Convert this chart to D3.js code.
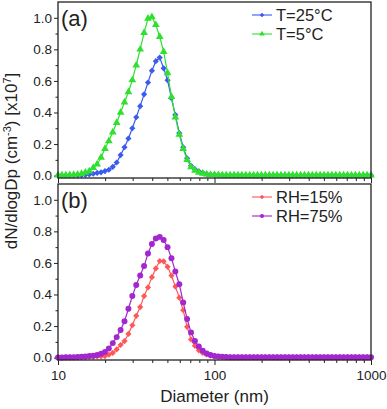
<!DOCTYPE html>
<html>
<head>
<meta charset="utf-8">
<title>Size distributions</title>
<script src="https://d3js.org/d3.v7.min.js"></script>
<style>
  body { margin: 0; background: #fff; }
  text { font-family: "Liberation Sans", Arial, sans-serif; fill: #222; }
  .domain { display: none; }
  .tick line { stroke: #222; }
</style>
</head>
<body>
<svg width="387" height="409"></svg>
<script>
// diameters (nm)
var diam = [10.00,10.59,11.22,11.89,12.59,13.34,14.13,14.96,15.85,16.79,17.78,18.84,19.95,21.13,22.39,23.71,25.12,26.61,28.18,29.85,
  31.62,33.50,35.48,37.58,39.81,42.17,44.67,47.32,50.12,53.09,56.23,59.57,63.10,66.83,70.79,74.99,79.43,84.14,89.13,94.41,
  100.0,105.9,112.2,118.9,125.9,133.4,141.3,149.6,158.5,167.9,177.8,188.4,199.5,211.3,223.9,237.1,251.2,266.1,281.8,298.5,
  316.2,335.0,354.8,375.8,398.1,421.7,446.7,473.2,501.2,530.9,562.3,595.7,631.0,668.3,707.9,749.9,794.3,841.4,891.3,944.1,1000];

// dN/dlogDp [x10^7]
var t25 = [0.001,0.001,0.001,0.002,0.002,0.002,0.003,0.005,0.008,0.012,
  0.017,0.021,0.029,0.037,0.056,0.083,0.130,0.180,0.235,0.300,
  0.370,0.440,0.515,0.590,0.665,0.725,0.748,0.680,0.605,0.490,
  0.385,0.270,0.180,0.110,0.062,0.041,0.028,0.018,0.011,0.007,
  0.005,0.004,0.004,0.003,0.003,0.003,0.002,0.002,0.002,0.002,
  0.002,0.002,0.002,0.002,0.002,0.002,0.002,0.002,0.002,0.002,
  0.002,0.002,0.002,0.002,0.002,0.002,0.002,0.002,0.002,0.002,
  0.002,0.002,0.002,0.002,0.002,0.002,0.002,0.002,0.002,0.002,0.002];
var t5 = [0.002,0.002,0.003,0.004,0.005,0.008,0.012,0.020,0.028,0.050,
  0.072,0.115,0.170,0.220,0.275,0.335,0.400,0.465,0.530,0.605,
  0.700,0.800,0.905,0.995,1.005,0.955,0.880,0.785,0.650,0.500,
  0.370,0.260,0.170,0.100,0.055,0.032,0.020,0.013,0.008,0.006,
  0.005,0.004,0.003,0.003,0.003,0.003,0.003,0.003,0.003,0.003,
  0.003,0.003,0.003,0.003,0.003,0.003,0.003,0.003,0.003,0.003,
  0.003,0.003,0.003,0.003,0.003,0.003,0.003,0.003,0.003,0.003,
  0.003,0.003,0.003,0.003,0.003,0.003,0.003,0.003,0.003,0.003,0.003];
var rh15 = [0.001,0.001,0.001,0.002,0.002,0.002,0.003,0.003,0.004,0.005,
  0.007,0.008,0.010,0.018,0.030,0.052,0.080,0.105,0.150,0.205,
  0.265,0.320,0.390,0.445,0.510,0.565,0.612,0.610,0.575,0.520,
  0.450,0.380,0.300,0.195,0.115,0.075,0.046,0.030,0.020,0.012,
  0.008,0.006,0.004,0.003,0.003,0.003,0.003,0.003,0.003,0.003,
  0.003,0.003,0.003,0.003,0.003,0.003,0.003,0.003,0.003,0.003,
  0.003,0.003,0.003,0.003,0.003,0.003,0.003,0.003,0.003,0.003,
  0.003,0.003,0.003,0.003,0.003,0.003,0.003,0.003,0.003,0.003,0.003];
var rh75 = [0.001,0.001,0.002,0.002,0.003,0.004,0.005,0.007,0.010,0.012,
  0.016,0.025,0.036,0.058,0.092,0.130,0.175,0.230,0.310,0.390,
  0.460,0.520,0.580,0.660,0.720,0.755,0.765,0.745,0.700,0.630,
  0.545,0.465,0.350,0.245,0.160,0.105,0.070,0.043,0.026,0.016,
  0.010,0.007,0.005,0.004,0.003,0.003,0.003,0.003,0.003,0.003,
  0.003,0.003,0.003,0.003,0.003,0.003,0.003,0.003,0.003,0.003,
  0.003,0.003,0.003,0.003,0.003,0.003,0.003,0.003,0.003,0.003,
  0.003,0.003,0.003,0.003,0.003,0.003,0.003,0.003,0.003,0.003,0.003];

var yTicks = [0, 0.2, 0.4, 0.6, 0.8, 1.0];
var yMinor = [0.1, 0.3, 0.5, 0.7, 0.9];
var xTicks = [10, 100, 1000];
var xMinor = [20,30,40,50,60,70,80,90,200,300,400,500,600,700,800,900];

var panels = [
  {top: 2, tag: "(a)", series: [
    {name: "T=25°C", values: t25, color: "#3a5af0", shape: "diamond"},
    {name: "T=5°C", values: t5, color: "#2fe02f", shape: "triangle"}]},
  {top: 184, tag: "(b)", series: [
    {name: "RH=15%", values: rh15, color: "#ff5757", shape: "diamond"},
    {name: "RH=75%", values: rh75, color: "#a326cf", shape: "circle"}]}
];

var svg = d3.select("svg");
var left = 58, right = 371, ph = 176;

var x = d3.scaleLog().domain([10, 1000]).range([left, right]);

function marker(shape, big) {
  if (shape == "triangle") return d3.symbol(d3.symbolTriangle, big ? 26 : 13)();
  if (shape == "circle") return d3.symbol(d3.symbolCircle, big ? 28 : 14)();
  return d3.symbol(d3.symbolSquare, big ? 19 : 10)();
}

panels.forEach(function(p, pi) {
  var y = d3.scaleLinear().domain([-0.015, 1.1]).range([p.top + ph, p.top]);
  var g = svg.append("g");
  var bottom = p.top + ph;

  // axes
  g.append("g").attr("transform", "translate(" + left + ",0)")
    .call(d3.axisLeft(y).tickValues(yTicks).tickSize(4).tickPadding(2).tickFormat(d3.format(".1f")))
    .selectAll("text").style("font-size", "13.5px").attr("fill", "#222");
  g.append("g").attr("transform", "translate(" + left + ",0)")
    .call(d3.axisLeft(y).tickValues(yMinor).tickSize(2.5).tickFormat(""));
  var xa = g.append("g").attr("transform", "translate(0," + bottom + ")")
    .call(d3.axisBottom(x).tickValues(xTicks).tickSize(5).tickPadding(5)
      .tickFormat(pi == 1 ? d3.format("d") : function() { return ""; }));
  xa.selectAll("text").style("font-size", "13.5px").attr("fill", "#222");
  g.append("g").attr("transform", "translate(0," + bottom + ")")
    .call(d3.axisBottom(x).tickValues(xMinor).tickSize(3).tickFormat(""));

  // curves
  p.series.forEach(function(s) {
    var pts = diam.map(function(d, i) { return [d, s.values[i]]; });
    g.append("path").datum(pts)
      .attr("fill", "none").attr("stroke", s.color).attr("stroke-width", 1.2)
      .attr("d", d3.line().x(function(d) { return x(d[0]); }).y(function(d) { return y(d[1]); }));
    g.append("g").selectAll("path").data(pts).enter().append("path")
      .attr("d", marker(s.shape, true))
      .attr("fill", s.color)
      .attr("transform", function(d) {
        return "translate(" + x(d[0]) + "," + y(d[1]) + ")" + (s.shape == "diamond" ? " rotate(45)" : "");
      });
  });

  // frame
  g.append("rect").attr("x", left).attr("y", p.top).attr("width", right - left).attr("height", ph)
    .attr("fill", "none").attr("stroke", "#222").attr("stroke-width", 1.3);

  g.append("text").attr("x", 61).attr("y", p.top + 24).style("font-size", "22px").text(p.tag);

  // legend
  p.series.forEach(function(s, i) {
    var ly = p.top + 13 + i * 19;
    g.append("line").attr("x1", 252).attr("x2", 272).attr("y1", ly).attr("y2", ly)
      .attr("stroke", s.color).attr("stroke-width", 1.1);
    g.append("path").attr("d", marker(s.shape, false)).attr("fill", s.color)
      .attr("transform", "translate(262," + ly + ")" + (s.shape == "diamond" ? " rotate(45)" : ""));
    g.append("text").attr("x", 276).attr("y", ly + 5.5).style("font-size", "16.5px").text(s.name);
  });
});

// axis titles
svg.append("text").attr("x", x(100)).attr("y", 402).attr("text-anchor", "middle")
  .style("font-size", "17px").text("Diameter (nm)");

var yl = svg.append("text").attr("transform", "translate(17,161) rotate(-90)")
  .attr("text-anchor", "middle").style("font-size", "17px");
yl.append("tspan").text("dN/dlogDp (cm");
yl.append("tspan").attr("dy", -6).style("font-size", "11px").text("-3");
yl.append("tspan").attr("dy", 6).text(") [x10");
yl.append("tspan").attr("dy", -6).style("font-size", "11px").text("7");
yl.append("tspan").attr("dy", 6).text("]");
</script>
</body>
</html>
